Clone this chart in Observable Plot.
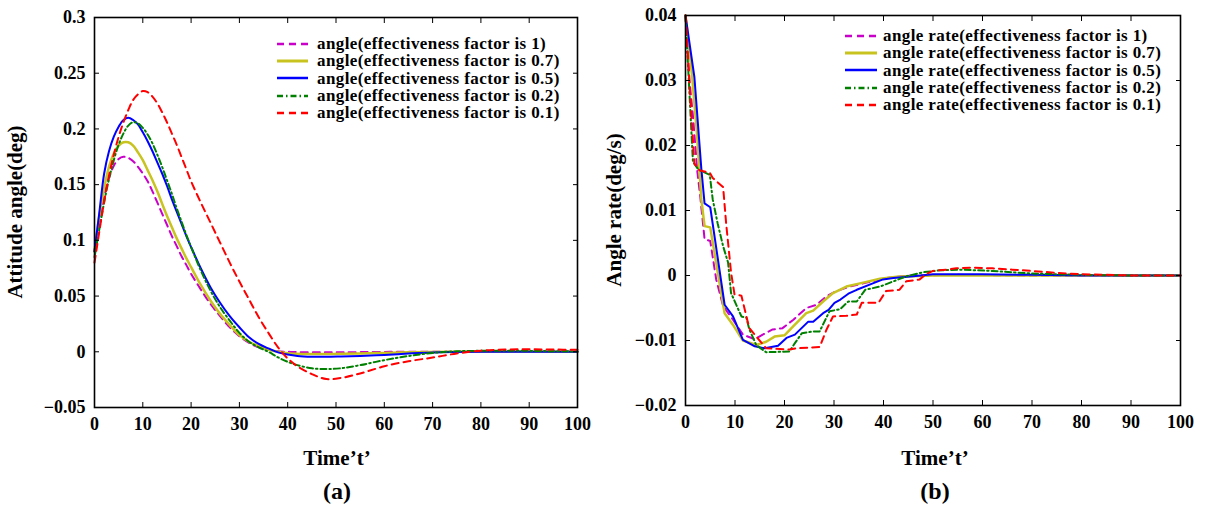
<!DOCTYPE html>
<html><head><meta charset="utf-8">
<script src="https://cdn.jsdelivr.net/npm/d3@7"></script>
<script src="https://cdn.jsdelivr.net/npm/@observablehq/plot@0.6"></script>
<style>
html,body{margin:0;padding:0;background:#fff;}
#root{position:relative;width:1208px;height:506px;overflow:hidden;font-family:'Liberation Serif','Times New Roman',serif;font-weight:bold;color:#000;}
.panel{position:absolute;top:0;}
.title{position:absolute;white-space:nowrap;font-size:21px;line-height:1;transform:translate(-50%,-50%);}
.ytitle{transform:translate(-50%,-50%) rotate(-90deg);}
.cap{font-size:24px;}
.legend{position:absolute;font-size:17px;letter-spacing:0.4px;}
.legend .row{display:flex;align-items:center;height:17.3px;white-space:nowrap;line-height:17px;}
</style></head><body><div id="root"></div>
<script>
// ---------- shared ----------
const xTicks = [0, 10, 20, 30, 40, 50, 60, 70, 80, 90, 100];
const seriesColors = ["#c800c8", "#c8c31e", "#0000ff", "#008000", "#ff0000"];
const seriesDash = ["7,5", null, null, "6,3,1.5,3", "7,5"];
const seriesWidth = [2, 2.5, 2, 2, 2];

// ---------- panel (a): attitude angle ----------
const yTicksA = [-0.05, 0, 0.05, 0.1, 0.15, 0.2, 0.25, 0.3];
const legendA = [
  "angle(effectiveness factor is 1)",
  "angle(effectiveness factor is 0.7)",
  "angle(effectiveness factor is 0.5)",
  "angle(effectiveness factor is 0.2)",
  "angle(effectiveness factor is 0.1)"
];
const tA = [0,1,2,3,4,5,6,7,8,9,10,11,12,13,14,15,16,17,18,19,20,22,24,26,28,30,32,34,36,38,40,42,45,48,51,55,60,65,70,75,80,85,90,95,100];
const angle1 = [0.090,0.118,0.140,0.156,0.167,0.173,0.175,0.174,0.171,0.166,0.160,0.153,0.144,0.134,0.124,0.114,0.104,0.095,0.086,0.078,0.070,0.056,0.043,0.032,0.022,0.014,0.008,0.004,0.002,0.0005,0,-0.0003,-0.0005,-0.0005,-0.0005,-0.0003,-0.0001,0,0,0,0,0,0,0,0];
const angle07 = [0.090,0.122,0.147,0.166,0.178,0.185,0.188,0.188,0.185,0.179,0.172,0.163,0.154,0.144,0.133,0.122,0.112,0.102,0.093,0.084,0.076,0.060,0.046,0.034,0.024,0.015,0.009,0.005,0.002,0,-0.0012,-0.0018,-0.002,-0.002,-0.0018,-0.0015,-0.001,-0.0005,-0.0002,0,0,0,0,0,0];
const angle05 = [0.090,0.125,0.160,0.180,0.193,0.202,0.208,0.210,0.208,0.204,0.197,0.189,0.180,0.170,0.160,0.149,0.137,0.126,0.115,0.104,0.094,0.075,0.058,0.044,0.032,0.022,0.013,0.007,0.003,-0.0005,-0.0025,-0.0038,-0.0045,-0.0045,-0.0042,-0.0037,-0.0028,-0.0016,-0.0006,-0.0002,0,0,0,0,0];
const angle02 = [0.085,0.110,0.134,0.155,0.172,0.186,0.196,0.203,0.206,0.205,0.201,0.195,0.187,0.177,0.166,0.154,0.142,0.129,0.117,0.105,0.094,0.073,0.055,0.040,0.028,0.017,0.009,0.004,0,-0.005,-0.009,-0.012,-0.0148,-0.0155,-0.0148,-0.012,-0.0075,-0.0038,-0.001,0.0004,0.0009,0.001,0.0008,0.0005,0.0003];
const angle01 = [0.080,0.108,0.135,0.158,0.177,0.193,0.206,0.217,0.226,0.231,0.234,0.233,0.229,0.223,0.215,0.206,0.196,0.186,0.175,0.164,0.153,0.134,0.116,0.098,0.080,0.063,0.047,0.031,0.017,0.004,-0.006,-0.013,-0.020,-0.0245,-0.0235,-0.0195,-0.013,-0.0085,-0.0052,-0.0015,0.001,0.002,0.0022,0.002,0.0018];

// ---------- panel (b): angle rate ----------
const yTicksB = [-0.02, -0.01, 0, 0.01, 0.02, 0.03, 0.04];
const legendB = [
  "angle rate(effectiveness factor is 1)",
  "angle rate(effectiveness factor is 0.7)",
  "angle rate(effectiveness factor is 0.5)",
  "angle rate(effectiveness factor is 0.2)",
  "angle rate(effectiveness factor is 0.1)"
];
const rate1T = [0,0.8,1.5,2.4,3.0,3.85,5.0,6.2,7.6,9.6,11.6,14,15.6,17.6,19.6,21.8,24.4,26.5,28.5,30.5,33.2,36.6,40.6,45,55,70,100];
const rate1V = [0.040,0.030,0.0246,0.0159,0.0120,0.0056,0.0053,-0.0006,-0.0047,-0.0068,-0.0091,-0.0098,-0.0091,-0.0083,-0.0081,-0.0068,-0.0050,-0.0045,-0.0032,-0.0024,-0.0017,-0.0011,-0.0004,0,0.0001,0,0];
const rate07T = [0,1.3,2.3,3.2,3.85,5.0,7.9,9.6,11.6,14.3,16.3,18,20,21.8,24.4,25.8,27.8,29.8,32.5,35.9,39.3,42.7,50,100];
const rate07V = [0.040,0.031,0.022,0.0117,0.0076,0.0074,-0.0058,-0.0076,-0.0100,-0.0107,-0.0102,-0.0094,-0.0092,-0.0078,-0.0058,-0.0054,-0.0040,-0.0027,-0.0017,-0.0011,-0.0005,-0.0002,0,0];
const rate05T = [0,1.8,3.2,3.85,5.0,7.9,9.6,11.6,14,16,18.7,20.4,22.1,24.8,25.8,27.8,28.9,30.1,31.3,32.9,34.6,37.2,39.9,42,46,50,60,70,80,100];
const rate05V = [0.040,0.0305,0.0164,0.0111,0.0105,-0.0045,-0.0063,-0.0099,-0.0109,-0.0112,-0.0108,-0.0096,-0.0091,-0.0071,-0.0071,-0.0058,-0.0053,-0.0042,-0.0037,-0.0028,-0.0022,-0.0014,-0.0006,-0.0004,-0.0001,0.0002,0.0002,0.0001,0,0];
const rate02T = [0,0.8,1.5,2.6,4.9,5.5,6.5,7.6,8.6,9.2,11.3,12.3,12.9,14.3,16.3,21,22.1,23.5,25.8,27.1,29.1,31.2,32.9,34.6,36.3,39.3,42,44.7,48,51.4,56,62,70,80,90,100];
const rate02V = [0.040,0.028,0.0175,0.0163,0.0155,0.0117,0.0080,0.0045,0.0020,-0.0027,-0.0063,-0.0065,-0.0083,-0.0107,-0.0118,-0.0117,-0.0104,-0.0089,-0.0086,-0.0086,-0.0055,-0.0052,-0.0040,-0.0040,-0.0022,-0.0017,-0.0009,-0.0001,0.0005,0.0008,0.0009,0.0007,0.0003,0.0001,0,0];
const rate01T = [0,0.8,1.8,2.8,4.9,5.5,7.6,8.2,9.2,9.9,11.3,12.3,12.9,14.3,16.3,21,22.4,27.1,28.5,29.8,32.5,34.6,35.6,39,40.5,43.2,44.6,47.3,48.6,50,52.7,54.7,58,62,66,70,75,80,85,90,100];
const rate01V = [0.040,0.0295,0.0172,0.0162,0.0158,0.0150,0.0136,0.0081,0.0005,-0.0029,-0.0031,-0.0063,-0.0081,-0.0094,-0.0112,-0.0114,-0.0112,-0.0110,-0.0083,-0.0063,-0.0062,-0.0060,-0.0042,-0.0042,-0.0024,-0.0022,-0.0009,-0.0006,0.0002,0.0007,0.0009,0.0011,0.0012,0.0011,0.0009,0.0007,0.0004,0.0002,0.0001,0,0];

// ---------- build ----------
const zip = (T, V) => T.map((t, i) => ({t, v: V[i]}));
const fmt = d => d === 0 ? "0" : d3.format("~g")(d);
const root = document.getElementById("root");

function panel(cfg) {
  const marks = [];
  cfg.series.forEach((data, i) => marks.push(Plot.line(data, {
    x: "t", y: "v", stroke: seriesColors[i], strokeWidth: seriesWidth[i],
    strokeDasharray: seriesDash[i], curve: cfg.curve
  })));
  marks.push(
    Plot.frame({stroke: "#000", strokeWidth: 1.6}),
    Plot.axisX({anchor: "bottom", ticks: xTicks, tickSize: 0, tickPadding: 10, tickFormat: fmt, label: null}),
    Plot.axisX({anchor: "bottom", ticks: xTicks, tickSize: 5, dy: -5, tickFormat: () => "", label: null}),
    Plot.axisX({anchor: "top", ticks: xTicks, tickSize: 5, dy: 5, tickFormat: () => "", label: null}),
    Plot.axisY({anchor: "left", ticks: cfg.yTicks, tickSize: 0, tickPadding: 9, tickFormat: fmt, label: null}),
    Plot.axisY({anchor: "left", ticks: cfg.yTicks, tickSize: 5, dx: 5, tickFormat: () => "", label: null}),
    Plot.axisY({anchor: "right", ticks: cfg.yTicks, tickSize: 5, dx: -5, tickFormat: () => "", label: null})
  );
  const svg = Plot.plot({
    width: cfg.width, height: 470,
    marginLeft: cfg.ml, marginRight: cfg.mr, marginTop: cfg.mt, marginBottom: 470 - cfg.fb,
    x: {domain: [0, 100]},
    y: {domain: cfg.yDomain},
    style: {fontFamily: "'Liberation Serif','Times New Roman',serif", fontSize: "18px", fontWeight: "bold", color: "#000", background: "transparent", overflow: "visible"},
    marks
  });
  const wrap = document.createElement("div");
  wrap.className = "panel";
  wrap.style.left = cfg.left + "px";
  wrap.appendChild(svg);
  root.appendChild(wrap);

  const addText = (txt, cls, x, y) => {
    const d = document.createElement("div");
    d.className = "title " + cls;
    d.textContent = txt;
    d.style.left = x + "px"; d.style.top = y + "px";
    root.appendChild(d);
  };
  addText(cfg.xTitle, "", cfg.cx, 458);
  addText(cfg.yTitle, "ytitle", cfg.yx, cfg.yy);
  addText(cfg.caption, "cap", cfg.cx, 491);

  const leg = document.createElement("div");
  leg.className = "legend";
  leg.style.left = cfg.legX + "px"; leg.style.top = cfg.legY + "px";
  cfg.legend.forEach((label, i) => {
    const row = document.createElement("div");
    row.className = "row";
    const s = d3.create("svg").attr("width", cfg.legLine).attr("height", 10).style("margin-right", cfg.legGap + "px");
    s.append("line").attr("x1", 0).attr("x2", cfg.legLine).attr("y1", 5).attr("y2", 5)
      .attr("stroke", seriesColors[i]).attr("stroke-width", seriesWidth[i] + 0.5)
      .attr("stroke-dasharray", seriesDash[i]);
    row.appendChild(s.node());
    const span = document.createElement("span");
    span.textContent = label;
    row.appendChild(span);
    leg.appendChild(row);
  });
  root.appendChild(leg);
}

panel({
  left: 0, width: 600, ml: 94, mr: 23, mt: 17, fb: 407,
  yDomain: [-0.05, 0.3], yTicks: yTicksA, curve: "catmull-rom",
  series: [zip(tA, angle1), zip(tA, angle07), zip(tA, angle05), zip(tA, angle02), zip(tA, angle01)],
  xTitle: "Time\u2019t\u2019", yTitle: "Attitude angle(deg)", caption: "(a)",
  cx: 337, yx: 15, yy: 212,
  legend: legendA, legX: 277, legY: 35, legLine: 31, legGap: 9
});
panel({
  left: 600, width: 608, ml: 85, mr: 28, mt: 15, fb: 405,
  yDomain: [-0.02, 0.04], yTicks: yTicksB, curve: "linear",
  series: [zip(rate1T, rate1V), zip(rate07T, rate07V), zip(rate05T, rate05V), zip(rate02T, rate02V), zip(rate01T, rate01V)],
  xTitle: "Time\u2019t\u2019", yTitle: "Angle rate(deg/s)", caption: "(b)",
  cx: 935, yx: 614, yy: 210,
  legend: legendB, legX: 845, legY: 27, legLine: 32, legGap: 6
});
</script></body></html>
